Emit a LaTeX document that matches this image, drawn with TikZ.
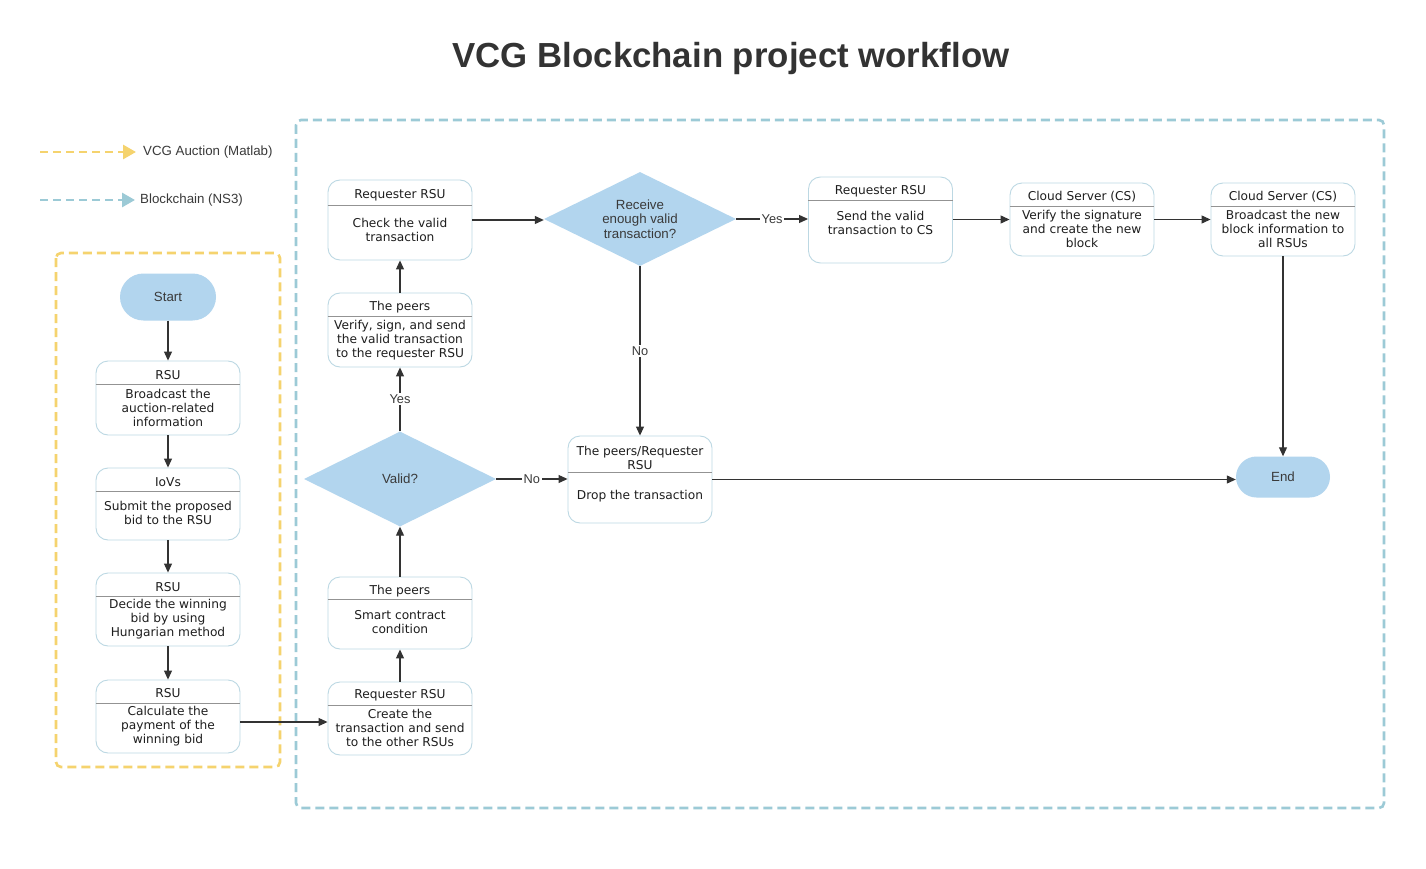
\documentclass[tikz,border=0pt]{standalone}
\usepackage{fontspec}
\setmainfont{Liberation Sans}
\newfontfamily\boxfont{DejaVu Sans}
\usetikzlibrary{arrows.meta,shapes.geometric}
\definecolor{lblue}{HTML}{B2D5EE}
\definecolor{boxline}{HTML}{BCD8E3}
\definecolor{ydash}{HTML}{F5D36E}
\definecolor{bdash}{HTML}{9CCAD6}
\definecolor{conncol}{HTML}{333333}
\definecolor{txt}{HTML}{1E1E1E}
\definecolor{dtxt}{HTML}{3A3A3A}
\tikzset{
  procrect/.style={draw=boxline, line width=0.9pt, rounded corners=12pt, fill=white, inner sep=0pt},
  boxtext/.style={font=\boxfont\fontsize{12.2}{14}\selectfont, text=txt, align=center, inner sep=0pt},
  divline/.style={draw=gray!85, line width=0.9pt},
  decision/.style={diamond, fill=lblue, draw=none, inner sep=0pt, aspect=2, font=\fontsize{13.3}{14.5}\selectfont, text=dtxt, align=center},
  terminal/.style={fill=lblue, draw=none, font=\fontsize{13.3}{15}\selectfont, text=dtxt},
  conn/.style={draw=conncol, line width=1.1pt, -{Triangle[length=9pt,width=8pt]}},
  connlabel/.style={fill=white, inner sep=1.5pt, font=\fontsize{12.8}{14}\selectfont, text=dtxt},
  ygroup/.style={draw=ydash, line width=2.6pt, dash pattern=on 9pt off 5pt, rounded corners=5pt},
  bgroup/.style={draw=bdash, line width=2.6pt, dash pattern=on 9pt off 5pt, rounded corners=5pt},
  legendtext/.style={anchor=west, font=\fontsize{13.3}{15}\selectfont, text=dtxt, inner sep=0pt}
}
% name, cx, top, bottom, divider y, title y, title, body y, body
\newcommand\procbox[9]{%
  \node[procrect, minimum width=144pt, minimum height={#4pt-#3pt}] (#1) at (#2,{(#3+#4)/2}) {};
  \draw[divline] (#1.west |- 0,#5) -- (#1.east |- 0,#5);
  \node[boxtext] (#1t) at (#2,#6) {#7};
  \node[boxtext] (#1b) at (#2,#8) {#9};
}
\begin{document}
\begin{tikzpicture}[x=1pt,y=-1pt]
\useasboundingbox[fill=white] (0,0) rectangle (1426,869);

% title
\node[font=\fontsize{34.8}{40}\selectfont\bfseries, text=conncol] (title) at (731,59) {VCG Blockchain project workflow};

% legend
\coordinate (ly0) at (40,152);
\coordinate (ly1) at (136,152);
\draw[draw=ydash, line width=2.8pt, dash pattern=on 8pt off 5pt, -{Triangle[length=13pt,width=14pt,fill=ydash]}] (ly0) -- (ly1);
\node[legendtext] (lyt) at (143,152) {VCG Auction (Matlab)};
\coordinate (lb0) at (40,200);
\coordinate (lb1) at (135,200);
\draw[draw=bdash, line width=2.8pt, dash pattern=on 8pt off 5pt, -{Triangle[length=13pt,width=14pt,fill=bdash]}] (lb0) -- (lb1);
\node[legendtext] (lbt) at (140,200) {Blockchain (NS3)};

% groups
\draw[ygroup] (56,253) rectangle (280,767);
\draw[bgroup] (296,120) rectangle (1384,808);

% left column
\node[terminal, minimum width=96pt, minimum height=47pt, rounded corners=23.5pt] (start) at (168,297) {Start};
\procbox{rsuA}{168}{361}{435}{384}{375}{RSU}{408}{Broadcast the\\auction-related\\information}
\procbox{iovs}{168}{468}{540}{491}{482}{IoVs}{513}{Submit the proposed\\bid to the RSU}
\procbox{rsuB}{168}{573}{646}{596}{587}{RSU}{619}{Decide the winning\\bid by using\\Hungarian method}
\procbox{rsuC}{168}{680}{753}{703}{693}{RSU}{726}{Calculate the\\payment of the\\winning bid}

% middle column
\procbox{create}{400}{682}{755}{705}{695}{Requester RSU}{728}{Create the\\transaction and send\\to the other RSUs}
\procbox{smart}{400}{577}{649}{599}{591}{The peers}{622}{Smart contract\\condition}
\node[decision, minimum width=192pt, minimum height=95pt] (valid) at (400,479) {Valid?};
\procbox{verify}{400}{293}{367}{316}{307}{The peers}{340}{Verify, sign, and send\\the valid transaction\\to the requester RSU}
\procbox{check}{400}{180}{260}{205}{195}{Requester RSU}{230}{Check the valid\\transaction}

% top row
\node[decision, minimum width=192pt, minimum height=94pt] (recv) at (640,219) {Receive\\enough valid\\transaction?};
\procbox{send}{880.5}{177}{263}{200}{191}{Requester RSU}{223}{Send the valid\\transaction to CS}
\procbox{vcs}{1082}{183}{256}{206}{197}{Cloud Server (CS)}{229}{Verify the signature\\and create the new\\block}
\procbox{bcs}{1283}{183}{256}{206}{197}{Cloud Server (CS)}{229}{Broadcast the new\\block information to\\all RSUs}

% drop and end
\procbox{drop}{640}{436}{523}{472}{458}{The peers/Requester\\RSU}{496}{Drop the transaction}
\node[terminal, minimum width=94pt, minimum height=41pt, rounded corners=20.5pt] (endn) at (1283,477) {End};

% connectors
\draw[conn] (start.south) -- (rsuA.north);
\draw[conn] (rsuA.south) -- (iovs.north);
\draw[conn] (iovs.south) -- (rsuB.north);
\draw[conn] (rsuB.south) -- (rsuC.north);
\draw[conn] ([yshift=-5.5pt]rsuC.east) -- ([yshift=-5.5pt]rsuC.east -| create.west);
\draw[conn] (create.north) -- (smart.south);
\draw[conn] (smart.north) -- (valid.south);
\draw[conn] (valid.north) -- node[connlabel] {Yes} (verify.south);
\draw[conn] (verify.north) -- (check.south);
\draw[conn] (check.east) -- (check.east -| recv.west);
\draw[conn] (recv.east) -- node[connlabel] {Yes} (recv.east -| send.west);
\draw[conn] (send.east |- vcs.west) -- (vcs.west);
\draw[conn] (vcs.east) -- (bcs.west);
\draw[conn] (bcs.south) -- (endn.north);
\draw[conn] (recv.south) -- node[connlabel] {No} (drop.north);
\draw[conn] (valid.east) -- node[connlabel] {No} (valid.east -| drop.west);
\draw[conn] (drop.east) -- (drop.east -| endn.west);
\end{tikzpicture}
\end{document}
